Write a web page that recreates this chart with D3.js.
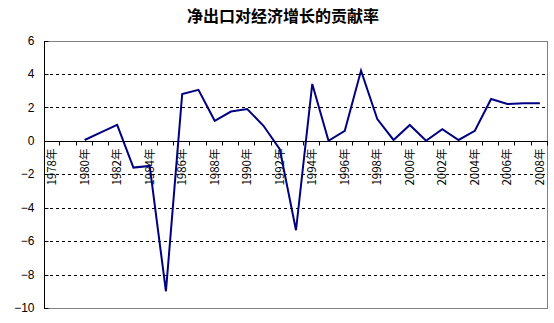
<!DOCTYPE html>
<html>
<head>
<meta charset="utf-8">
<script src="https://cdn.jsdelivr.net/npm/d3@7"></script>
<style>
  body { margin: 0; background: #fff; }
  svg { display: block; }
</style>
</head>
<body>
<svg width="554" height="323"></svg>
<script>
(function () {

  var title = '净出口对经济增长的贡献率'

  // years on the category axis
  var years = d3.range(1978, 2009)

  // contribution of net exports (1978, 1979 have no point)
  var values = [null, null, 0.05, 0.5, 0.95, -1.6, -1.5, -9.0, 2.8, 3.05,
                1.2, 1.75, 1.9, 0.9, -0.5, -5.35, 3.4, 0.0, 0.6, 4.2,
                1.3, 0.05, 0.95, 0.0, 0.7, 0.05, 0.6, 2.5, 2.2, 2.25, 2.25]

  var yTicks = [-10, -8, -6, -4, -2, 0, 2, 4, 6]

  var data = years.map(function (y, i) { return { year: y, v: values[i] } })

  var left = 44, right = 548, top = 40.5, bottom = 308

  var svg = d3.select('svg')

  var x = d3.scaleBand().domain(years).range([left, right])
  var y = d3.scaleLinear().domain([-10, 6]).range([bottom, top])

  // title
  svg.append('text')
    .attr('x', 283)
    .attr('y', 22)
    .attr('text-anchor', 'middle')
    .attr('font-family', '"Noto Sans CJK SC", sans-serif')
    .attr('font-size', 16)
    .attr('font-weight', 'bold')
    .text(title)

  // dashed gridlines
  svg.selectAll('.grid')
    .data(yTicks.filter(d => d != 0 && d != 6 && d != -10))
    .enter().append('line')
    .attr('x1', left)
    .attr('x2', right)
    .attr('y1', d => Math.round(y(d)) + 0.5)
    .attr('y2', d => Math.round(y(d)) + 0.5)
    .attr('stroke', '#000')
    .attr('stroke-dasharray', '3,3')

  // plot area border (grey)
  svg.append('rect')
    .attr('x', left + 0.5)
    .attr('y', Math.round(top) + 0.5)
    .attr('width', right - left - 1)
    .attr('height', Math.round(bottom) - Math.round(top))
    .attr('fill', 'none')
    .attr('stroke', '#808080')

  // y axis
  var yAxis = svg.append('g')
    .attr('transform', 'translate(' + (left + 0.5) + ',0)')
  yAxis.append('line')
    .attr('y1', Math.round(top))
    .attr('y2', Math.round(bottom) + 1)
    .attr('stroke', '#000')
  yAxis.selectAll('.yt')
    .data(yTicks)
    .enter().append('line')
    .attr('x1', 0)
    .attr('x2', 4)
    .attr('y1', d => Math.round(y(d)) + 0.5)
    .attr('y2', d => Math.round(y(d)) + 0.5)
    .attr('stroke', '#000')
  yAxis.selectAll('.yl')
    .data(yTicks)
    .enter().append('text')
    .attr('x', -10)
    .attr('y', d => y(d))
    .attr('dy', '0.35em')
    .attr('text-anchor', 'end')
    .attr('font-family', '"Liberation Sans", Arial, sans-serif')
    .attr('font-size', 12)
    .text(d => d3.format('d')(d))

  // x axis at zero
  var y0 = Math.round(y(0)) + 0.5
  svg.append('line')
    .attr('x1', left)
    .attr('x2', right)
    .attr('y1', y0)
    .attr('y2', y0)
    .attr('stroke', '#000')

  var edges = years.map(d => x(d)).concat([right])
  svg.selectAll('.xt')
    .data(edges.slice(1))
    .enter().append('line')
    .attr('x1', d => Math.round(d) - 0.5)
    .attr('x2', d => Math.round(d) - 0.5)
    .attr('y1', y0)
    .attr('y2', y0 + 4)
    .attr('stroke', '#000')

  svg.selectAll('.xl')
    .data(years.filter(d => (d - 1978) % 2 == 0))
    .enter().append('text')
    .attr('transform', d => 'translate(' + (x(d) + x.bandwidth() / 2) + ',' + (y0 + 7) + ') rotate(-90)')
    .attr('dy', '0.35em')
    .attr('text-anchor', 'end')
    .attr('font-family', '"Noto Sans CJK SC", sans-serif')
    .attr('font-size', 11.5)
    .text(d => d + '年')

  // the series line
  var line = d3.line()
    .defined(d => d.v != null)
    .x(d => x(d.year) + x.bandwidth() / 2)
    .y(d => y(d.v))

  svg.append('path')
    .datum(data)
    .attr('d', line)
    .attr('fill', 'none')
    .attr('stroke', '#000080')
    .attr('stroke-width', 2)

})()
</script>
</body>
</html>
